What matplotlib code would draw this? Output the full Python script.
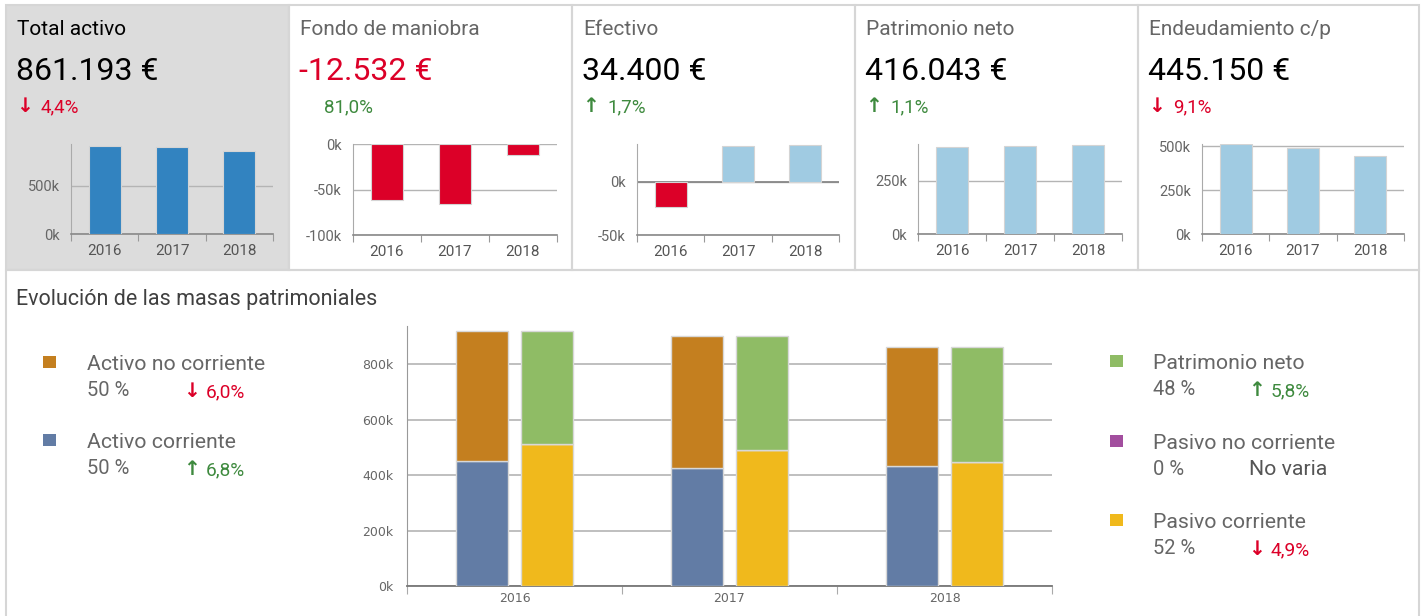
import numpy as np
import matplotlib
matplotlib.use('Agg')
from matplotlib import pyplot as plt
from matplotlib.patches import Rectangle

plt.rcParams['font.family'] = ['Roboto', 'DejaVu Sans']

# data
years = ['2016', '2017', '2018']
activo_no_corriente = [469000, 477000, 428575]
activo_corriente = [450000, 424000, 432618]
patrimonio_neto = [407000, 411500, 416043]
pasivo_no_corriente = [0, 0, 0]
pasivo_corriente = [512000, 489700, 445150]
efectivo = [-24000, 33825, 34400]

total_activo = [a + b for a, b in zip(activo_no_corriente, activo_corriente)]
fondo_maniobra = [a - b for a, b in zip(activo_corriente, pasivo_corriente)]

kpi_titles = ['Total activo', 'Fondo de maniobra', 'Efectivo', 'Patrimonio neto', 'Endeudamiento c/p']
kpi_values = ['861.193 €', '-12.532 €', '34.400 €', '416.043 €', '445.150 €']
kpi_changes = ['4,4%', '81,0%', '1,7%', '1,1%', '9,1%']
kpi_arrows = ['↓', '', '↑', '↑', '↓']

legend_left = [('Activo no corriente', '50 %', '↓', '6,0%'),
               ('Activo corriente', '50 %', '↑', '6,8%')]
legend_right = [('Patrimonio neto', '48 %', '↑', '5,8%'),
                ('Pasivo no corriente', '0 %', '', 'No varia'),
                ('Pasivo corriente', '52 %', '↓', '4,9%')]

RED = '#dc0028'
GREEN = '#3e8a3e'
C_ANC = '#c47f1f'
C_AC = '#627ca5'
C_PN = '#8fbc65'
C_PNC = '#a24e9e'
C_PC = '#f0b91c'
BLUE = '#3283c0'
LIGHT = '#a0cbe2'

W, H = 1423, 616
fig = plt.figure(figsize=(W / 100, H / 100), dpi=100)


def px_axes(x0, y0, x1, y1):
    ax = fig.add_axes([x0 / W, 1 - y1 / H, (x1 - x0) / W, (y1 - y0) / H])
    ax.set_zorder(2)
    return ax


def ftext(x, y, s, **kw):
    fig.text(x / W, 1 - y / H, s, va='baseline', **kw)


def box(x0, y0, x1, y1, fc='none', ec='#d6d6d6'):
    fig.patches.append(Rectangle((x0 / W, 1 - y1 / H), (x1 - x0) / W, (y1 - y0) / H,
                                 transform=fig.transFigure, fc=fc, ec=ec, lw=1.5, zorder=-1))


def kfmt(v):
    return '%dk' % round(v / 1000)


def mini_chart(x0, x1, vals, colors, ylim, yticks, zero=False, y1=234):
    ax = px_axes(x0, 144, x1, y1)
    ax.set_facecolor('none')
    ax.bar(range(3), vals, width=0.48, color=colors, edgecolor='#d4d4d4', lw=0.8, zorder=3)
    ax.set_xlim(-0.5, 2.5)
    ax.set_ylim(*ylim)
    ax.set_yticks(yticks)
    ax.set_yticklabels([kfmt(t) for t in yticks])
    ax.grid(axis='y', color='#b4b4b4', lw=1, zorder=1)
    if zero:
        ax.axhline(0, color='#888888', lw=1.3, zorder=2)
    for s in ['top', 'right']:
        ax.spines[s].set_visible(False)
    ax.spines['left'].set_color('#aaaaaa')
    ax.spines['bottom'].set_color('#888888')
    ax.spines['bottom'].set_linewidth(1.2)
    ax.tick_params(axis='y', length=0, pad=8, labelsize=10.5, labelcolor='#666666')
    ax.set_xticks([-0.5, 0.5, 1.5, 2.5])
    ax.set_xticklabels([])
    ax.tick_params(axis='x', which='major', length=5, color='#999999')
    ax.set_xticks([0, 1, 2], minor=True)
    ax.set_xticklabels(years, minor=True)
    ax.tick_params(axis='x', which='minor', length=0, pad=7, labelsize=11, labelcolor='#555555')
    return ax


# panels
panel_x = [6, 289, 572, 855, 1138, 1419]
box(6, 5, 289, 270, fc='#dcdcdc')
for i in range(1, 5):
    box(panel_x[i], 5, panel_x[i + 1], 270)
box(6, 270, 1419, 620)

for i in range(5):
    x = panel_x[i] + 11
    ftext(x, 35, kpi_titles[i], fontsize=15, color='black' if i == 0 else '#666666')
    ftext(x - 1, 80, kpi_values[i], fontsize=23, color=RED if i == 1 else 'black')
    up = kpi_arrows[i] == '↑' or i == 1
    col = GREEN if up else RED
    if kpi_arrows[i]:
        ftext(x - 1, 112, kpi_arrows[i], fontsize=14.5, color=col, fontweight='bold',
              family='DejaVu Sans')
    ftext(x + 24, 112, kpi_changes[i], fontsize=13.5, color=col)

mini_chart(71, 273, total_activo, [BLUE] * 3, (0, 935000), [0, 500000])
mini_chart(353, 557, fondo_maniobra, [RED] * 3, (-100000, 0), [-100000, -50000, 0], y1=235)
mini_chart(637, 839, efectivo, [RED if v < 0 else LIGHT for v in efectivo],
           (-50000, 35600), [-50000, 0], zero=True, y1=235)
mini_chart(918, 1122, patrimonio_neto, [LIGHT] * 3, (0, 422000), [0, 250000])
mini_chart(1202, 1404, pasivo_corriente, [LIGHT] * 3, (0, 514000), [0, 250000, 500000])

# bottom section
ftext(16, 305, 'Evolución de las masas patrimoniales', fontsize=15.5, color='#404040')

ax = px_axes(407, 326, 1052, 586)
x = np.arange(3)
bw = 0.24
ec = '#d8d8d8'
ax.bar(x - 0.15, activo_corriente, bw, color=C_AC, edgecolor=ec, lw=1, zorder=3)
ax.bar(x - 0.15, activo_no_corriente, bw, bottom=activo_corriente, color=C_ANC,
       edgecolor=ec, lw=1, zorder=3)
ax.bar(x + 0.15, pasivo_corriente, bw, color=C_PC, edgecolor=ec, lw=1, zorder=3)
base = [a + b for a, b in zip(pasivo_corriente, pasivo_no_corriente)]
ax.bar(x + 0.15, pasivo_no_corriente, bw, bottom=pasivo_corriente, color=C_PNC,
       edgecolor=ec, lw=1, zorder=3)
ax.bar(x + 0.15, patrimonio_neto, bw, bottom=base, color=C_PN, edgecolor=ec, lw=1, zorder=3)
ax.set_xlim(-0.5, 2.5)
ax.set_ylim(0, 937000)
yt = [0, 200000, 400000, 600000, 800000]
ax.set_yticks(yt)
ax.set_yticklabels([kfmt(t) for t in yt], family='DejaVu Sans')
ax.grid(axis='y', color='#b4b4b4', lw=1.2, zorder=1)
for s in ['top', 'right']:
    ax.spines[s].set_visible(False)
ax.spines['left'].set_color('#999999')
ax.spines['bottom'].set_color('#777777')
ax.spines['bottom'].set_linewidth(1.3)
ax.tick_params(axis='y', length=0, pad=10, labelsize=9, labelcolor='#666666')
ax.set_xticks([-0.5, 0.5, 1.5, 2.5])
ax.set_xticklabels([])
ax.tick_params(axis='x', which='major', length=6, color='#aaaaaa')
ax.set_xticks(x, minor=True)
ax.set_xticklabels(years, minor=True, family='DejaVu Sans')
ax.tick_params(axis='x', which='minor', length=0, pad=4, labelsize=9, labelcolor='#666666')


# legends
def legend_block(xsq, xt, xa, items, colors, ys):
    for (name, pct, arrow, chg), c, yb in zip(items, colors, ys):
        fig.patches.append(Rectangle((xsq / W, 1 - (yb - 2) / H), 13 / W, 12 / H,
                                     transform=fig.transFigure, fc=c, ec='none'))
        ftext(xt, yb, name, fontsize=15.3, color='#666666')
        ftext(xt, yb + 26, pct, fontsize=14.5, color='#666666')
        if arrow:
            col = GREEN if arrow == '↑' else RED
            ftext(xa, yb + 27, arrow, fontsize=14.5, color=col, fontweight='bold',
                  family='DejaVu Sans')
            ftext(xa + 23, yb + 27, chg, fontsize=13.8, color=col)
        else:
            ftext(xa + 1, yb + 26, chg, fontsize=15.3, color='#555555')


legend_block(43, 87, 183, legend_left, [C_ANC, C_AC], [370, 448])
legend_block(1110, 1153, 1248, legend_right, [C_PN, C_PNC, C_PC], [369, 449, 528])

fig.savefig('out.png', dpi=100)
